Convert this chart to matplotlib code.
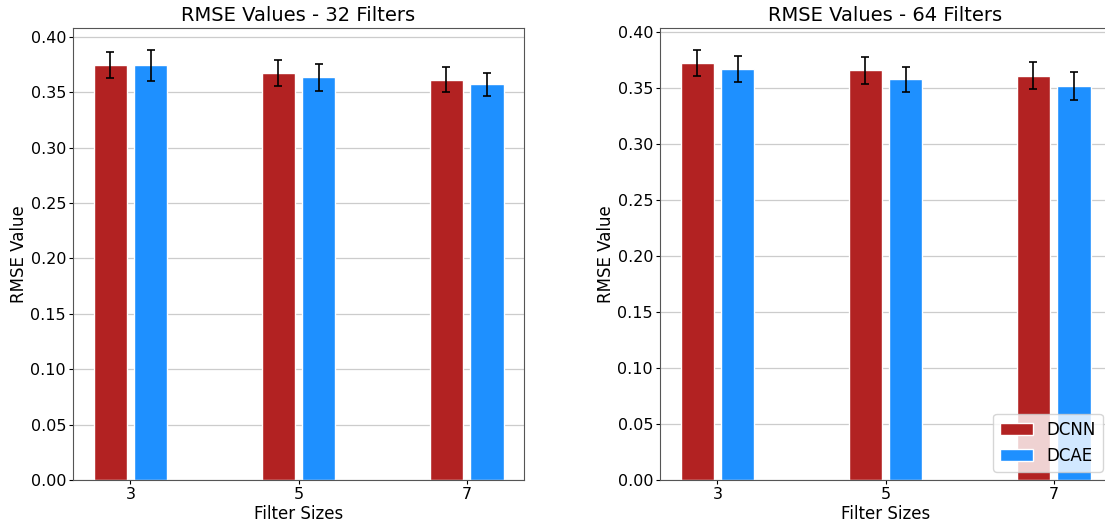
import numpy as np
import matplotlib.pyplot as plt

# Data
filter_sizes = ["3", "5", "7"]
models = ["DCNN", "DCAE"]
colors = ["firebrick", "dodgerblue"]

rmse_32 = {
    "DCNN": [0.3743, 0.3672, 0.3612],
    "DCAE": [0.3741, 0.3633, 0.3569],
}
err_32 = {
    "DCNN": [0.0115, 0.0114, 0.0110],
    "DCAE": [0.0143, 0.0120, 0.0105],
}
rmse_64 = {
    "DCNN": [0.3729, 0.3660, 0.3613],
    "DCAE": [0.3675, 0.3580, 0.3518],
}
err_64 = {
    "DCNN": [0.0117, 0.0120, 0.0120],
    "DCAE": [0.0117, 0.0113, 0.0125],
}

plt.rcParams['font.family'] = 'DejaVu Sans'

fig = plt.figure(figsize=(11.05, 5.26), dpi=100)
ax1 = fig.add_axes([73 / 1105, 46 / 526, 451 / 1105, 452 / 526])
ax2 = fig.add_axes([660 / 1105, 46 / 526, 451 / 1105, 452 / 526])

x = np.arange(len(filter_sizes))
width = 0.2
offsets = [-0.12, 0.12]


def draw(ax, values, errors, title, legend=False):
    ax.set_axisbelow(True)
    ax.grid(axis='y', color='#cccccc', linewidth=0.9)
    for m, c, off in zip(models, colors, offsets):
        ax.bar(x + off, values[m], width, yerr=errors[m], color=c,
               edgecolor='white', linewidth=1, capsize=3,
               error_kw=dict(elinewidth=1.2, capthick=1.2, ecolor='black'),
               label=m)
    ax.set_xticks(x)
    ax.set_xticklabels(filter_sizes)
    ax.set_title(title, fontsize=14, pad=5)
    ax.set_xlabel("Filter Sizes", fontsize=12, labelpad=2)
    ax.set_ylabel("RMSE Value", fontsize=12, labelpad=2)
    ax.tick_params(labelsize=11.5, pad=2, length=3)
    for s in ax.spines.values():
        s.set_color('#555555')
    if legend:
        ax.legend(loc='lower right', fontsize=12)


draw(ax1, rmse_32, err_32, "RMSE Values - 32 Filters")
draw(ax2, rmse_64, err_64, "RMSE Values - 64 Filters", legend=True)

fig.savefig("out.png", dpi=100)
